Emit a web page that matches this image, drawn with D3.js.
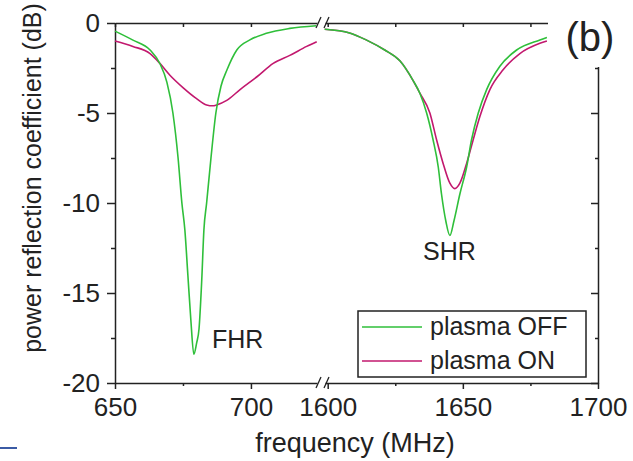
<!DOCTYPE html>
<html>
<head>
<meta charset="utf-8">
<script src="https://cdn.jsdelivr.net/npm/d3@7"></script>
<style>
body { margin: 0; background: #fff; }
svg { display: block; font-family: "Liberation Sans", Arial, sans-serif; }
.axis path, .axis line { stroke: #222; stroke-width: 1.5; }
.axis text { font-family: "Liberation Sans", Arial, sans-serif; font-size: 26px; fill: #222; }
</style>
</head>
<body>
<script>
// FHR part (left of the break)
var offLowFreq = [650, 656.6, 662.9, 666.5, 669.1, 671.3, 673.2, 674.6, 675.7, 676.8, 677.9, 679,
                  680.0, 680.9, 681.9, 682.7, 683.7, 685.3, 687.1, 689.0, 691.2, 694.8, 699.6, 705.7, 714.3, 724];
var offLowDb   = [-0.45, -0.95, -1.5, -2.25, -3.3, -5.0, -7.5, -10, -11.5, -14, -16.5, -18.4,
                  -17.8, -17, -14.3, -11.5, -10, -7.5, -5, -3.5, -2.6, -1.5, -0.94, -0.57, -0.3, -0.15];
var onLowFreq  = [650, 656.6, 662.9, 666.5, 670.2, 675.1, 680, 683.7, 686, 687.4, 691.1, 696, 702.1, 708.2, 714.3, 720.5, 724.2];
var onLowDb    = [-1.0, -1.3, -1.7, -2.24, -2.9, -3.6, -4.2, -4.55, -4.6, -4.55, -4.3, -3.7, -3.0, -2.24, -1.8, -1.3, -1.04];

// SHR part (right of the break)
var offHighFreq = [1598.9, 1608.1, 1614.4, 1621.1, 1626.7, 1631.6, 1634.1, 1636.6, 1639, 1640.9, 1642.1, 1643.7,
                   1645.2, 1646.7, 1648.9, 1651.4, 1653.2, 1655.7, 1658.8, 1663.7, 1669.9, 1678.5, 1681.1];
var offHighDb   = [-0.35, -0.55, -0.95, -1.5, -2.1, -3.2, -3.9, -5.0, -6.5, -8.0, -9.5, -11.0,
                   -11.8, -11.0, -9.5, -8.0, -6.5, -5.0, -3.7, -2.4, -1.5, -0.94, -0.8];
var onHighFreq  = [1598.9, 1608.1, 1614.4, 1621.1, 1626.7, 1631.6, 1634.1, 1637.8, 1640.3, 1642.7, 1645.2, 1647,
                   1648.9, 1651.4, 1653.8, 1656.3, 1660, 1664.9, 1671.1, 1678.5, 1681.1];
var onHighDb    = [-0.35, -0.55, -0.95, -1.5, -2.1, -3.2, -3.9, -5.0, -6.5, -7.8, -8.9, -9.2,
                   -8.9, -7.8, -6.5, -5.2, -3.7, -2.6, -1.7, -1.13, -1.0];

var yMajor = [0, -5, -10, -15, -20];
var yMinor = [-2.5, -7.5, -12.5, -17.5];
var xLowMajor = [650, 700], xLowMinor = [675];
var xHighMajor = [1600, 1650, 1700], xHighMinor = [1625, 1675];

var seriesNames = ["plasma OFF", "plasma ON"];
var seriesColors = ["#2fbf3a", "#c2186e"];

var w = 633, h = 461;
var plotL = 115, plotR = 598, plotT = 23, plotB = 383;

var xLow = d3.scaleLinear().domain([650, 724.3]).range([plotL, 317]);
var xHigh = d3.scaleLinear().domain([1599, 1700]).range([325, plotR]);
var y = d3.scaleLinear().domain([-20, 0]).range([plotB, plotT]);

var svg = d3.select("body").append("svg")
  .attr("width", w)
  .attr("height", h);

function fmt(d) { return String(d); }

// bottom axes
svg.append("g").attr("class", "axis").attr("transform", "translate(0," + plotB + ")")
  .call(d3.axisBottom(xLow).tickValues(xLowMajor).tickSize(6).tickSizeOuter(0).tickPadding(9).tickFormat(fmt));
svg.append("g").attr("class", "axis").attr("transform", "translate(0," + plotB + ")")
  .call(d3.axisBottom(xHigh).tickValues(xHighMajor).tickSize(6).tickSizeOuter(0).tickPadding(9).tickFormat(fmt));
svg.append("g").attr("class", "axis").attr("transform", "translate(0," + plotB + ")")
  .call(d3.axisBottom(xLow).tickValues(xLowMinor).tickSize(3).tickFormat(""))
  .call(function(g) { g.select(".domain").remove(); });
svg.append("g").attr("class", "axis").attr("transform", "translate(0," + plotB + ")")
  .call(d3.axisBottom(xHigh).tickValues(xHighMinor).tickSize(3).tickFormat(""))
  .call(function(g) { g.select(".domain").remove(); });

// top axes (mirrored, ticks inward)
svg.append("g").attr("class", "axis").attr("transform", "translate(0," + plotT + ")")
  .call(d3.axisBottom(xLow).tickValues(xLowMajor.concat(xLowMinor)).tickSize(4).tickSizeOuter(0).tickFormat(""));
svg.append("g").attr("class", "axis").attr("transform", "translate(0," + plotT + ")")
  .call(d3.axisBottom(xHigh).tickValues(xHighMajor.concat(xHighMinor)).tickSize(4).tickSizeOuter(0).tickFormat(""));

// left axis
svg.append("g").attr("class", "axis").attr("transform", "translate(" + plotL + ",0)")
  .call(d3.axisLeft(y).tickValues(yMajor).tickSize(8).tickSizeOuter(0).tickPadding(7).tickFormat(fmt));
svg.append("g").attr("class", "axis").attr("transform", "translate(" + plotL + ",0)")
  .call(d3.axisLeft(y).tickValues(yMinor).tickSize(4).tickFormat(""))
  .call(function(g) { g.select(".domain").remove(); });

// right axis (mirrored, ticks inward)
svg.append("g").attr("class", "axis").attr("transform", "translate(" + plotR + ",0)")
  .call(d3.axisLeft(y).tickValues(yMajor).tickSize(7).tickSizeOuter(0).tickFormat(""));
svg.append("g").attr("class", "axis").attr("transform", "translate(" + plotR + ",0)")
  .call(d3.axisLeft(y).tickValues(yMinor).tickSize(3).tickFormat(""))
  .call(function(g) { g.select(".domain").remove(); });

// break marks
[plotT, plotB].forEach(function(yy) {
  [318.5, 326.5].forEach(function(xx) {
    svg.append("line")
      .attr("x1", xx - 2.5).attr("y1", yy + 5)
      .attr("x2", xx + 2.5).attr("y2", yy - 6)
      .attr("stroke", "#222").attr("stroke-width", 1.3);
  });
});

// curves
var lineLow = d3.line().x(function(d) { return xLow(d[0]); }).y(function(d) { return y(d[1]); }).curve(d3.curveMonotoneX);
var lineHigh = d3.line().x(function(d) { return xHigh(d[0]); }).y(function(d) { return y(d[1]); }).curve(d3.curveMonotoneX);

var curves = [
  { pts: d3.zip(onLowFreq, onLowDb), gen: lineLow, c: 1 },
  { pts: d3.zip(onHighFreq, onHighDb), gen: lineHigh, c: 1 },
  { pts: d3.zip(offLowFreq, offLowDb), gen: lineLow, c: 0 },
  { pts: d3.zip(offHighFreq, offHighDb), gen: lineHigh, c: 0 }
];
curves.forEach(function(cv) {
  svg.append("path")
    .attr("d", cv.gen(cv.pts))
    .attr("fill", "none")
    .attr("stroke", seriesColors[cv.c])
    .attr("stroke-width", 1.6);
});

// panel label with white backing
svg.append("rect").attr("x", 548).attr("y", 0).attr("width", 85).attr("height", 67).attr("fill", "#fff");
svg.append("text").attr("x", 590).attr("y", 51).attr("text-anchor", "middle")
  .attr("font-size", 40).attr("fill", "#222").text("(b)");

// resonance labels
svg.append("text").attr("x", 212).attr("y", 348).attr("font-size", 25).attr("fill", "#222").text("FHR");
svg.append("text").attr("x", 423).attr("y", 260).attr("font-size", 25).attr("fill", "#222").text("SHR");

// legend
var legend = svg.append("g");
legend.append("rect").attr("x", 358).attr("y", 311).attr("width", 228).attr("height", 66)
  .attr("fill", "#fff").attr("stroke", "#222").attr("stroke-width", 1.5);
seriesNames.forEach(function(name, i) {
  var ly = 327 + i * 34;
  legend.append("line").attr("x1", 362).attr("x2", 422).attr("y1", ly).attr("y2", ly)
    .attr("stroke", seriesColors[i]).attr("stroke-width", 1.6);
  legend.append("text").attr("x", 430).attr("y", ly + 8).attr("font-size", 25).attr("fill", "#222").text(name);
});

// axis titles
svg.append("text").attr("x", 355).attr("y", 452).attr("text-anchor", "middle")
  .attr("font-size", 27).attr("fill", "#222").text("frequency (MHz)");
svg.append("text").attr("transform", "translate(41,178) rotate(-90)").attr("text-anchor", "middle")
  .attr("font-size", 25).attr("fill", "#222").text("power reflection coefficient (dB)");

// stray blue mark at bottom left
svg.append("line").attr("x1", 0).attr("x2", 17).attr("y1", 448).attr("y2", 448)
  .attr("stroke", "#3b5ba5").attr("stroke-width", 2);
</script>
</body>
</html>
